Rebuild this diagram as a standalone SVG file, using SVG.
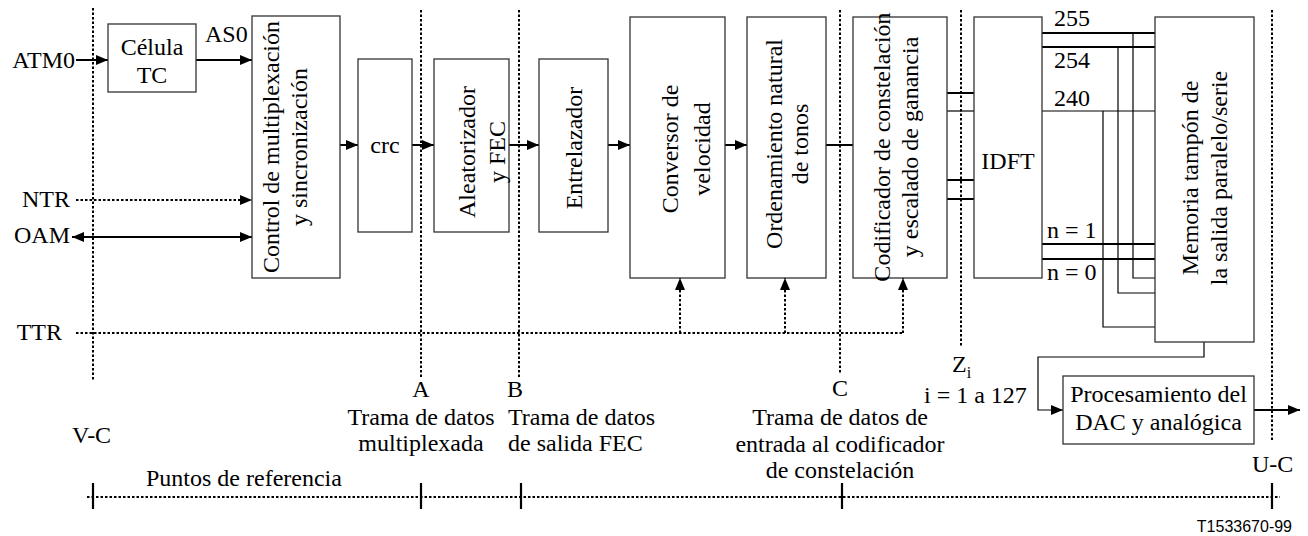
<svg xmlns="http://www.w3.org/2000/svg" width="1308" height="536" viewBox="0 0 1308 536" font-family="Liberation Serif, Times New Roman, DejaVu Serif, serif">
<style>
text{font-family:'Liberation Serif','Times New Roman','DejaVu Serif',serif;font-size:24px;fill:#000}
text.code{font-family:'Liberation Sans',Arial,sans-serif;font-size:16px}
.box{fill:#fff;stroke:#333;stroke-width:1.3}
.ln{stroke:#000;stroke-width:2;fill:none}
.thin{stroke:#000;stroke-width:1.2;fill:none}
.dot{stroke:#000;stroke-width:2;stroke-dasharray:2.5 2;fill:none}
.ref{stroke:#000;stroke-width:2;stroke-dasharray:2.5 2;fill:none}
.tick{stroke:#000;stroke-width:2.2}
.mid{text-anchor:middle}
</style>
<defs>
<marker id="ar" markerUnits="userSpaceOnUse" markerWidth="12" markerHeight="10" refX="12" refY="5" orient="auto-start-reverse" viewBox="0 0 12 10">
<path d="M0,0 L12,5 L0,10 z" fill="#000"/>
</marker>
</defs>

<g id="reference-lines">
<line class="ref" x1="93" y1="8" x2="93" y2="380"/>
<line class="ref" x1="421" y1="10" x2="421" y2="378"/>
<line class="ref" x1="519" y1="10" x2="519" y2="378"/>
<line class="ref" x1="840" y1="10" x2="840" y2="373"/>
<line class="ref" x1="961" y1="10" x2="961" y2="347"/>
<line class="ref" x1="1272" y1="10" x2="1272" y2="442"/>
<line class="dot" x1="87" y1="497" x2="1280" y2="497" stroke-width="1.6"/>
<line class="tick" x1="93" y1="483" x2="93" y2="509"/>
<line class="tick" x1="421" y1="483" x2="421" y2="509"/>
<line class="tick" x1="521" y1="483" x2="521" y2="509"/>
<line class="tick" x1="842" y1="483" x2="842" y2="509"/>
<line class="tick" x1="1272" y1="483" x2="1272" y2="509"/>
</g>

<g id="connectors">
<line class="ln" x1="76" y1="60" x2="108" y2="60" marker-end="url(#ar)"/>
<line class="ln" x1="196" y1="60" x2="252" y2="60" marker-end="url(#ar)"/>
<line class="dot" x1="76" y1="200" x2="252" y2="200" marker-end="url(#ar)"/>
<line class="ln" x1="72" y1="237" x2="252" y2="237" marker-start="url(#ar)" marker-end="url(#ar)"/>
<line class="ln" x1="340" y1="145" x2="358" y2="145" marker-end="url(#ar)"/>
<line class="ln" x1="412" y1="145" x2="434" y2="145" marker-end="url(#ar)"/>
<line class="ln" x1="509" y1="145" x2="539" y2="145" marker-end="url(#ar)"/>
<line class="ln" x1="608" y1="145" x2="630" y2="145" marker-end="url(#ar)"/>
<line class="ln" x1="725" y1="145" x2="747" y2="145" marker-end="url(#ar)"/>
<line class="ln" x1="826" y1="145" x2="853" y2="145"/>
<path class="dot" d="M76,333 H903"/>
<line class="dot" x1="680" y1="333" x2="680" y2="278" marker-end="url(#ar)"/>
<line class="dot" x1="785" y1="333" x2="785" y2="278" marker-end="url(#ar)"/>
<line class="dot" x1="903" y1="333" x2="903" y2="278" marker-end="url(#ar)"/>
<line class="ln" x1="947" y1="93" x2="974" y2="93"/>
<line class="thin" x1="947" y1="111" x2="974" y2="111"/>
<line class="ln" x1="947" y1="180" x2="974" y2="180"/>
<line class="ln" x1="947" y1="199" x2="974" y2="199"/>
<line class="ln" x1="1042" y1="33" x2="1155" y2="33"/>
<line class="ln" x1="1042" y1="47" x2="1155" y2="47"/>
<line class="thin" x1="1042" y1="111" x2="1155" y2="111"/>
<line class="ln" x1="1042" y1="244" x2="1155" y2="244"/>
<line class="ln" x1="1042" y1="259" x2="1155" y2="259"/>
<path class="thin" d="M1133,33 V278 H1155"/>
<path class="thin" d="M1118,47 V293 H1155"/>
<path class="thin" d="M1103,111 V327 H1155"/>
<path class="thin" d="M1204,342 V357 H1038 V410 H1063" marker-end="url(#ar)"/>
<line class="ln" x1="1254" y1="410" x2="1300" y2="410" marker-end="url(#ar)"/>
</g>

<g id="celula-tc">
<rect class="box" x="108" y="24" width="88" height="68"/>
<text class="mid" x="152" y="55">Célula</text>
<text class="mid" x="152" y="83">TC</text>
</g>
<g id="control">
<rect class="box" x="252" y="16" width="88" height="262"/>
<text class="mid" transform="translate(296,147) rotate(-90)"><tspan x="0" y="-17">Control de multiplexación</tspan><tspan x="0" y="11">y sincronización</tspan></text>
</g>
<g id="crc">
<rect class="box" x="358" y="59" width="54" height="173"/>
<text class="mid" x="385" y="153">crc</text>
</g>
<g id="aleatorizador">
<rect class="box" x="434" y="59" width="75" height="173"/>
<text class="mid" transform="translate(471.5,152) rotate(-90)"><tspan x="0" y="3">Aleatorizador</tspan><tspan x="0" y="33">y FEC</tspan></text>
</g>
<g id="entrelazador">
<rect class="box" x="539" y="59" width="69" height="173"/>
<text class="mid" transform="translate(573.5,148) rotate(-90)"><tspan x="0" y="8.5">Entrelazador</tspan></text>
</g>
<g id="conversor">
<rect class="box" x="630" y="17" width="95" height="261"/>
<text class="mid" transform="translate(677.5,149) rotate(-90)"><tspan x="0" y="0">Conversor de</tspan><tspan x="0" y="32">velocidad</tspan></text>
</g>
<g id="ordenamiento">
<rect class="box" x="747" y="17" width="79" height="261"/>
<text class="mid" transform="translate(786.5,144) rotate(-90)"><tspan x="0" y="-4.5">Ordenamiento natural</tspan><tspan x="0" y="21.5">de tonos</tspan></text>
</g>
<g id="codificador">
<rect class="box" x="853" y="17" width="94" height="261"/>
<text class="mid" transform="translate(900,147) rotate(-90)"><tspan x="0" y="-10">Codificador de constelación</tspan><tspan x="0" y="18">y escalado de ganancia</tspan></text>
</g>
<g id="idft">
<rect class="box" x="974" y="17" width="68" height="261"/>
<text class="mid" x="1008" y="169">IDFT</text>
</g>
<g id="memoria">
<rect class="box" x="1155" y="17" width="99" height="325"/>
<text class="mid" transform="translate(1204.5,178) rotate(-90)"><tspan x="0" y="-6.5">Memoria tampón de</tspan><tspan x="0" y="22.5">la salida paralelo/serie</tspan></text>
</g>
<g id="procesamiento">
<rect class="box" x="1063" y="376" width="191" height="68"/>
<text class="mid" x="1158.5" y="402">Procesamiento del</text>
<text class="mid" x="1158.5" y="430">DAC y analógica</text>
</g>

<g id="labels">
<text x="75" y="68" text-anchor="end">ATM0</text>
<text x="205" y="42">AS0</text>
<text x="70" y="207" text-anchor="end">NTR</text>
<text x="70" y="243" text-anchor="end">OAM</text>
<text x="62" y="340" text-anchor="end">TTR</text>
<text x="1054" y="26">255</text>
<text x="1054" y="68">254</text>
<text x="1054" y="106">240</text>
<text x="1047" y="238">n = 1</text>
<text x="1047" y="280">n = 0</text>
<text class="mid" x="421" y="397">A</text>
<text class="mid" x="421" y="425">Trama de datos</text>
<text class="mid" x="421" y="451">multiplexada</text>
<text class="mid" x="515" y="397">B</text>
<text x="508" y="425">Trama de datos</text>
<text x="508" y="451">de salida FEC</text>
<text class="mid" x="840" y="396">C</text>
<text class="mid" x="840" y="425">Trama de datos de</text>
<text class="mid" x="840" y="452">entrada al codificador</text>
<text class="mid" x="840" y="478">de constelación</text>
<text x="952" y="372">Z<tspan font-size="16" dy="6">i</tspan></text>
<text x="924" y="403">i = 1 a 127</text>
<text x="72" y="443">V-C</text>
<text x="146" y="486">Puntos de referencia</text>
<text x="1252" y="472">U-C</text>
<text class="code" x="1292" y="532" text-anchor="end">T1533670-99</text>
</g>
</svg>
